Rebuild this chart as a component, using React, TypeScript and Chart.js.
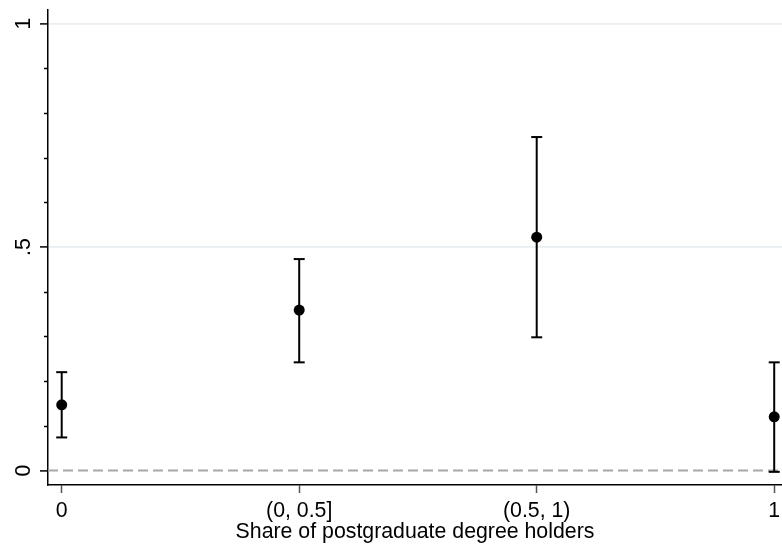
import React, { useEffect, useRef } from 'react';
import { Chart, registerables } from 'chart.js';

Chart.register(...registerables);

// ---- data ----
const categories = ['0', '(0, 0.5]', '(0.5, 1)', '1'];
const catPositions = [0, 1, 2, 3];
const estimates = [0.147, 0.359, 0.522, 0.12];
const lower = [0.074, 0.242, 0.298, -0.003];
const upper = [0.22, 0.473, 0.746, 0.242];
const yTickValues = [0, 0.5, 1];
const yTickLabels = ['0', '.5', '1'];
const yMinorTicks = [0.1, 0.2, 0.3, 0.4, 0.6, 0.7, 0.8, 0.9];
const xRange = [-0.0577, 3.0328];
const yRange = [-0.0324, 1.0302];
const refLineValue = 0;
const xTitle = 'Share of postgraduate degree holders';

const FONT = '"Liberation Sans", Arial, Helvetica, sans-serif';
const FONT_SIZE = 21.3;

const minorTickPlugin = {
  id: 'minorTicks',
  afterDraw(chart: any) {
    const y = chart.scales.y;
    const ctx = chart.ctx;
    const left = chart.chartArea.left;
    ctx.save();
    ctx.strokeStyle = '#000';
    ctx.lineWidth = 1.5;
    yMinorTicks.forEach((v) => {
      const py = Math.round(y.getPixelForValue(v)) + 0.5;
      ctx.beginPath();
      ctx.moveTo(left - 4, py);
      ctx.lineTo(left, py);
      ctx.stroke();
    });
    ctx.restore();
  },
};

export default function App() {
  const ref = useRef<HTMLCanvasElement | null>(null);

  useEffect(() => {
    if (!ref.current) return;
    const barDatasets = catPositions.map((x, i) => ({
      type: 'line' as const,
      data: [
        { x, y: lower[i] },
        { x, y: upper[i] },
      ],
      borderColor: '#000',
      borderWidth: 2,
      pointRadius: 0,
      fill: false,
      order: 3,
    }));

    const chart = new Chart(ref.current, {
      type: 'scatter',
      data: {
        datasets: [
          {
            type: 'line',
            data: [
              { x: xRange[0], y: refLineValue },
              { x: xRange[1], y: refLineValue },
            ],
            borderColor: '#a8a8a8',
            borderWidth: 1.8,
            borderDash: [10, 5],
            pointRadius: 0,
            fill: false,
            order: 10,
          } as any,
          ...barDatasets,
          {
            type: 'scatter',
            data: [
              ...catPositions.map((x, i) => ({ x, y: lower[i] })),
              ...catPositions.map((x, i) => ({ x, y: upper[i] })),
            ],
            pointStyle: 'line',
            pointRadius: 5.5,
            borderColor: '#000',
            borderWidth: 2,
            order: 2,
          } as any,
          {
            type: 'scatter',
            data: catPositions.map((x, i) => ({ x, y: estimates[i] })),
            pointStyle: 'circle',
            pointRadius: 5.5,
            backgroundColor: '#000',
            borderColor: '#000',
            borderWidth: 0,
            order: 1,
          } as any,
        ],
      },
      options: {
        animation: false,
        responsive: false,
        devicePixelRatio: 1,
        layout: { autoPadding: false, padding: { top: 10, right: 0, left: 0, bottom: 0 } },
        plugins: {
          legend: { display: false },
          tooltip: { enabled: false },
        },
        scales: {
          x: {
            type: 'linear',
            position: 'bottom',
            min: xRange[0],
            max: xRange[1],
            afterBuildTicks(s: any) {
              s.ticks = catPositions.map((v) => ({ value: v }));
            },
            afterFit(s: any) {
              s.height = 63;
              s.paddingLeft = 0;
              s.paddingRight = 0;
            },
            ticks: {
              callback: (_v: any, i: number) => categories[i],
              font: { family: FONT, size: FONT_SIZE },
              color: '#000',
              padding: 5,
              maxRotation: 0,
              minRotation: 0,
              autoSkip: false,
            },
            grid: {
              drawOnChartArea: false,
              drawTicks: true,
              tickLength: 8,
              tickColor: '#555',
              tickWidth: 1.5,
            },
            border: { display: true, color: '#000', width: 1.5 },
            title: {
              display: true,
              text: xTitle,
              font: { family: FONT, size: FONT_SIZE },
              color: '#000',
              padding: { top: 0, bottom: 3 },
            },
          },
          y: {
            type: 'linear',
            min: yRange[0],
            max: yRange[1],
            afterBuildTicks(s: any) {
              s.ticks = yTickValues.map((v) => ({ value: v }));
            },
            afterFit(s: any) {
              s.width = 48;
              s.paddingTop = 0;
              s.paddingBottom = 0;
            },
            ticks: {
              callback: (_v: any, i: number) => yTickLabels[i],
              font: { family: FONT, size: FONT_SIZE },
              color: '#000',
              padding: 7,
              minRotation: 90,
              maxRotation: 90,
              crossAlign: 'center',
              autoSkip: false,
            },
            grid: {
              color: (ctx: any) =>
                ctx.tick && ctx.tick.value === refLineValue ? 'rgba(0,0,0,0)' : '#e9eef1',
              lineWidth: 1.8,
              drawTicks: true,
              tickLength: 8,
              tickColor: '#000',
              tickWidth: 1.5,
            },
            border: { display: true, color: '#000', width: 1.5 },
          },
        },
      } as any,
      plugins: [minorTickPlugin],
    });
    return () => chart.destroy();
  }, []);

  return (
    <div style={{ position: 'absolute', left: 0, top: 0, width: 782, height: 548, background: '#fff' }}>
      <canvas ref={ref} width={782} height={548} style={{ display: 'block' }} />
    </div>
  );
}
